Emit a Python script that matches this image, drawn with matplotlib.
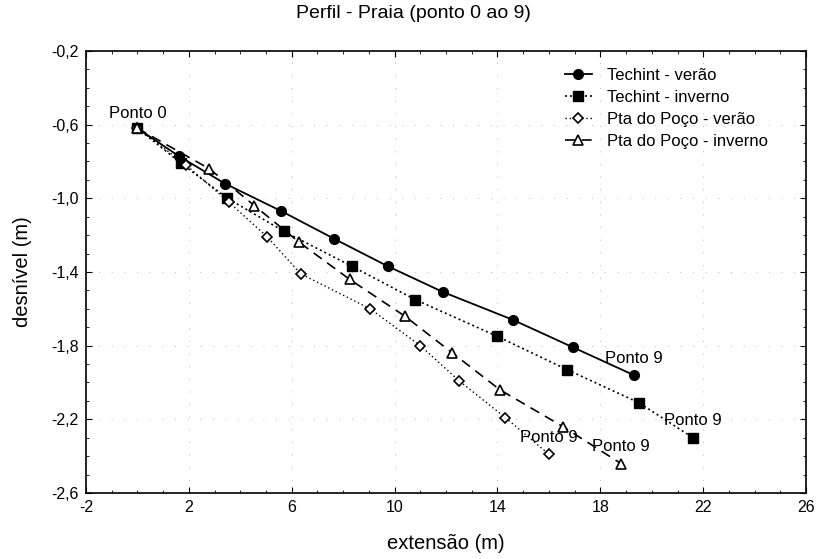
import matplotlib

matplotlib.use("Agg")
import matplotlib.pyplot as plt
from matplotlib.ticker import FixedLocator, FixedFormatter, MultipleLocator

plt.rcParams["font.family"] = ["Liberation Sans", "DejaVu Sans"]
plt.rcParams["axes.unicode_minus"] = False

# data
techint_verao_x = [0, 1.6, 3.4, 5.6, 7.65, 9.75, 11.9, 14.6, 16.95, 19.3]
techint_verao_y = [-0.62, -0.77, -0.92, -1.07, -1.22, -1.37, -1.51, -1.66, -1.81, -1.96]

techint_inverno_x = [0, 1.7, 3.5, 5.7, 8.35, 10.8, 14.0, 16.7, 19.5, 21.6]
techint_inverno_y = [-0.62, -0.81, -1.0, -1.18, -1.37, -1.55, -1.75, -1.93, -2.11, -2.30]

poco_verao_x = [0, 1.9, 3.55, 5.05, 6.35, 9.05, 11.0, 12.5, 14.3, 16.0]
poco_verao_y = [-0.62, -0.82, -1.02, -1.21, -1.41, -1.60, -1.80, -1.99, -2.19, -2.39]

poco_inverno_x = [0, 2.8, 4.55, 6.3, 8.25, 10.4, 12.25, 14.1, 16.55, 18.8]
poco_inverno_y = [-0.62, -0.84, -1.04, -1.24, -1.44, -1.64, -1.84, -2.04, -2.24, -2.44]

x_ticks = [-2, 2, 6, 10, 14, 18, 22, 26]
y_ticks = [-2.6, -2.2, -1.8, -1.4, -1.0, -0.6, -0.2]
y_tick_labels = ["-2,6", "-2,2", "-1,8", "-1,4", "-1,0", "-0,6", "-0,2"]

fig = plt.figure(figsize=(8.26, 5.59), dpi=100)
ax = fig.add_axes([0.104, 0.118, 0.872, 0.791])

ax.plot(techint_verao_x, techint_verao_y, "-", color="black", lw=1.3,
        marker="o", ms=7, mfc="black", label="Techint - verão")
ax.plot(techint_inverno_x, techint_inverno_y, color="black", lw=1.2,
        linestyle=(0, (1.2, 1.8)), marker="s", ms=7, mfc="black",
        label="Techint - inverno")
ax.plot(poco_verao_x, poco_verao_y, color="black", lw=1.0,
        linestyle=(0, (1, 2)), marker="D", ms=5, mfc="white", mew=1.2,
        label="Pta do Poço - verão")
ax.plot(poco_inverno_x, poco_inverno_y, color="black", lw=1.2,
        linestyle=(0, (6, 4)), marker="^", ms=6.5, mfc="white", mew=1.2,
        label="Pta do Poço - inverno")

# point labels
ax.annotate("Ponto 0", xy=(techint_verao_x[0], techint_verao_y[0]),
            xytext=(0, 15), textcoords="offset pixels",
            ha="center", va="center", fontsize=12)
for xs, ys in [(techint_verao_x, techint_verao_y),
               (techint_inverno_x, techint_inverno_y),
               (poco_verao_x, poco_verao_y),
               (poco_inverno_x, poco_inverno_y)]:
    ax.annotate("Ponto 9", xy=(xs[-1], ys[-1]), xytext=(0, 17),
                textcoords="offset pixels", ha="center", va="center",
                fontsize=12)

ax.set_xlim(-2, 26)
ax.set_ylim(-2.6, -0.2)
ax.xaxis.set_major_locator(FixedLocator(x_ticks))
ax.yaxis.set_major_locator(FixedLocator(y_ticks))
ax.yaxis.set_major_formatter(FixedFormatter(y_tick_labels))
ax.xaxis.set_minor_locator(MultipleLocator(1))
ax.yaxis.set_minor_locator(MultipleLocator(0.1))
ax.tick_params(which="both", direction="in", top=True, right=True,
               labelsize=11.5)
ax.tick_params(which="major", length=4, pad=5)
ax.tick_params(which="minor", length=2)
for sp in ax.spines.values():
    sp.set_linewidth(1.2)
ax.grid(True, which="major", color="#bbbbbb", linestyle=(0, (1, 12)), lw=0.7)

ax.set_xlabel("extensão (m)", fontsize=14.5, labelpad=14)
ax.set_ylabel("desnível (m)", fontsize=14.5, labelpad=14)
fig.text(0.5, 0.975, "Perfil - Praia (ponto 0 ao 9)", fontsize=14,
         ha="center", va="center")

ax.legend(loc="upper left", frameon=False, fontsize=12, handlelength=1.6,
          handletextpad=0.9, labelspacing=0.42, borderpad=0,
          borderaxespad=0, bbox_to_anchor=(0.665, 0.962))

fig.savefig("out.png", dpi=100)
